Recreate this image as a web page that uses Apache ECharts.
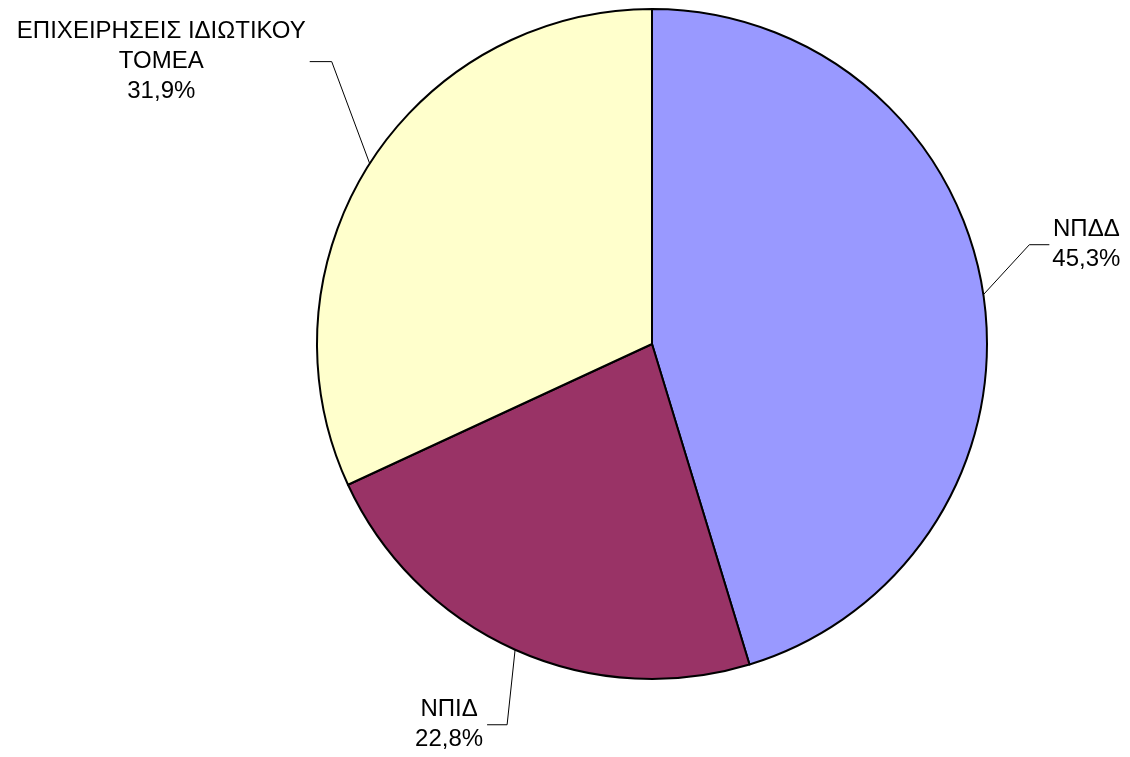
<!DOCTYPE html>
<html>
<head>
<meta charset="utf-8">
<script src="https://cdn.jsdelivr.net/npm/echarts@6/dist/echarts.min.js"></script>
<style>
html,body{margin:0;padding:0;background:#fff;}
#chart{width:1130px;height:757px;}
</style>
</head>
<body>
<div id="chart"></div>
<script>
const categories = ['ΝΠΔΔ', 'ΝΠΙΔ', 'ΕΠΙΧΕΙΡΗΣΕΙΣ ΙΔΙΩΤΙΚΟΥ\nΤΟΜΕΑ'];
const values = [45.3, 22.8, 31.9];
const colors = ['#9999FF', '#993366', '#FFFFCC'];

// leader line offsets (elbow relative to edge point, then horizontal run), label side and gap
const leaders = [
  { dx: 46, dy: -50, run: 20, side: 1, gap: 3 },
  { dx: -8, dy: 75, run: -20, side: -1, gap: 4 },
  { dx: -38, dy: -102, run: -22, side: -1, gap: 4 }
];

const chart = echarts.init(document.getElementById('chart'));
chart.setOption({
  backgroundColor: '#ffffff',
  animation: false,
  series: [{
    type: 'pie',
    center: [652, 344],
    radius: 335,
    startAngle: 90,
    clockwise: true,
    data: categories.map((c, i) => ({
      name: c,
      value: values[i],
      itemStyle: { color: colors[i] }
    })),
    itemStyle: { borderColor: '#000', borderWidth: 2 },
    emphasis: { disabled: true },
    label: {
      show: true,
      position: 'outside',
      color: '#000',
      fontFamily: 'Liberation Sans, Arial, sans-serif',
      fontSize: 24,
      lineHeight: 30,
      align: 'center',
      formatter: p => p.name + '\n' + p.value.toFixed(1).replace('.', ',') + '%'
    },
    labelLine: {
      show: true,
      length: 20,
      length2: 20,
      lineStyle: { color: '#000', width: 1 }
    },
    labelLayout: function (params) {
      const L = leaders[params.dataIndex];
      const p0 = params.labelLinePoints[0];
      const p1 = [p0[0] + L.dx, p0[1] + L.dy];
      const p2 = [p1[0] + L.run, p1[1]];
      const w = params.labelRect.width;
      return {
        x: p2[0] + L.side * (L.gap + w / 2),
        y: p2[1],
        align: 'center',
        verticalAlign: 'middle',
        labelLinePoints: [p0, p1, p2]
      };
    }
  }]
});
</script>
</body>
</html>
